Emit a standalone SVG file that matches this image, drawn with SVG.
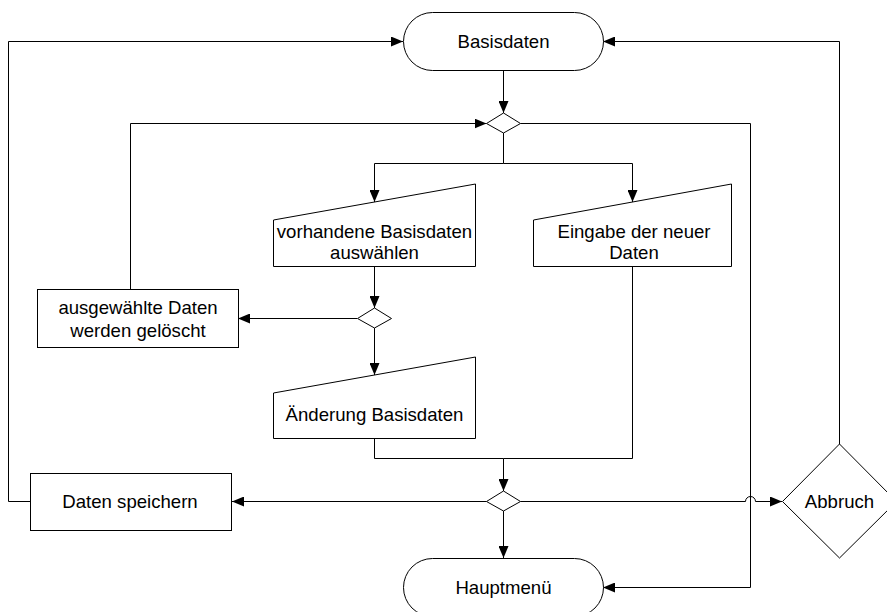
<svg xmlns="http://www.w3.org/2000/svg" width="887" height="612" viewBox="0 0 887 612">
  <style>
    .shape { fill: #ffffff; stroke: #000000; stroke-width: 1; }
    .conn { fill: none; stroke: #000000; stroke-width: 1; }
    .label { font-family: "Liberation Sans", Arial, sans-serif; font-size: 18.6px; fill: #000000; text-anchor: middle; }
  </style>
  <defs>
    <marker id="arrow" viewBox="0 0 12 10" refX="12" refY="5" markerWidth="12" markerHeight="10" orient="auto" markerUnits="userSpaceOnUse">
      <path d="M0,0 L12,5 L0,10 z" fill="#000000"/>
    </marker>
  </defs>
  <rect width="887" height="612" fill="#ffffff"/>

  <!-- connectors -->
  <g id="connectors" class="conn" marker-end="url(#arrow)">
    <path d="M503.5,70 V113"/>
    <path d="M503.5,133 V163.5 H374.5 V202"/>
    <path d="M503.5,163.5 H632.5 V202"/>
    <path d="M374.5,266 V308"/>
    <path d="M357,318.5 H238"/>
    <path d="M130.5,289 V123.5 H486.5"/>
    <path d="M374.5,328 V375"/>
    <path d="M374.5,438 V458.5 H503.5 V491"/>
    <path d="M632.5,266 V458.5 H503.5" marker-end="none"/>
    <path d="M486.5,501.5 H232"/>
    <path d="M520.5,501.5 H745.5 A5,5 0 0 1 755.5,501.5 H782"/>
    <path d="M503.5,511 V558"/>
    <path d="M520.5,123.5 H750.5 V587.5 H603"/>
    <path d="M30,501.5 H8.5 V41.5 H403"/>
    <path d="M839.5,444 V41.5 H603"/>
  </g>

  <!-- start terminator -->
  <g id="basisdaten">
    <rect class="shape" x="403.5" y="12.5" width="200" height="58" rx="29" ry="29"/>
    <text class="label" x="503.5" y="48">Basisdaten</text>
  </g>

  <!-- decision below start -->
  <g id="decision-top">
    <polygon class="shape" points="503.5,113 520.5,123.5 503.5,133 486.5,123.5"/>
  </g>

  <!-- manual input: choose existing data -->
  <g id="vorhandene-basisdaten">
    <polygon class="shape" points="273.5,220 475.5,184 475.5,266.5 273.5,266.5"/>
    <text class="label" x="374.5" y="238">vorhandene Basisdaten</text>
    <text class="label" x="374.5" y="259">auswählen</text>
  </g>

  <!-- manual input: enter new data -->
  <g id="eingabe">
    <polygon class="shape" points="533.5,220 731.5,184 731.5,266.5 533.5,266.5"/>
    <text class="label" x="634" y="238">Eingabe der neuer</text>
    <text class="label" x="634" y="259">Daten</text>
  </g>

  <!-- decision after selection -->
  <g id="decision-mid">
    <polygon class="shape" points="374.5,308 391.5,318.5 374.5,328 357.5,318.5"/>
  </g>

  <!-- delete selected data -->
  <g id="geloescht">
    <rect class="shape" x="37.5" y="289.5" width="201" height="58"/>
    <text class="label" x="138" y="314">ausgewählte Daten</text>
    <text class="label" x="138" y="337">werden gelöscht</text>
  </g>

  <!-- manual input: change data -->
  <g id="aenderung">
    <polygon class="shape" points="273.5,393 475.5,357 475.5,438.5 273.5,438.5"/>
    <text class="label" x="374.5" y="421">Änderung Basisdaten</text>
  </g>

  <!-- decision before save / cancel -->
  <g id="decision-bottom">
    <polygon class="shape" points="503.5,491 520.5,501.5 503.5,511 486.5,501.5"/>
  </g>

  <!-- save data -->
  <g id="speichern">
    <rect class="shape" x="30.5" y="473.5" width="201" height="57"/>
    <text class="label" x="130" y="508">Daten speichern</text>
  </g>

  <!-- cancel decision -->
  <g id="abbruch">
    <polygon class="shape" points="839.5,444 896.5,501.5 839.5,558 782.5,501.5"/>
    <text class="label" x="839.5" y="508">Abbruch</text>
  </g>

  <!-- end terminator -->
  <g id="hauptmenue">
    <rect class="shape" x="403.5" y="558.5" width="200" height="58" rx="29" ry="29"/>
    <text class="label" x="503.5" y="594">Hauptmenü</text>
  </g>
</svg>
